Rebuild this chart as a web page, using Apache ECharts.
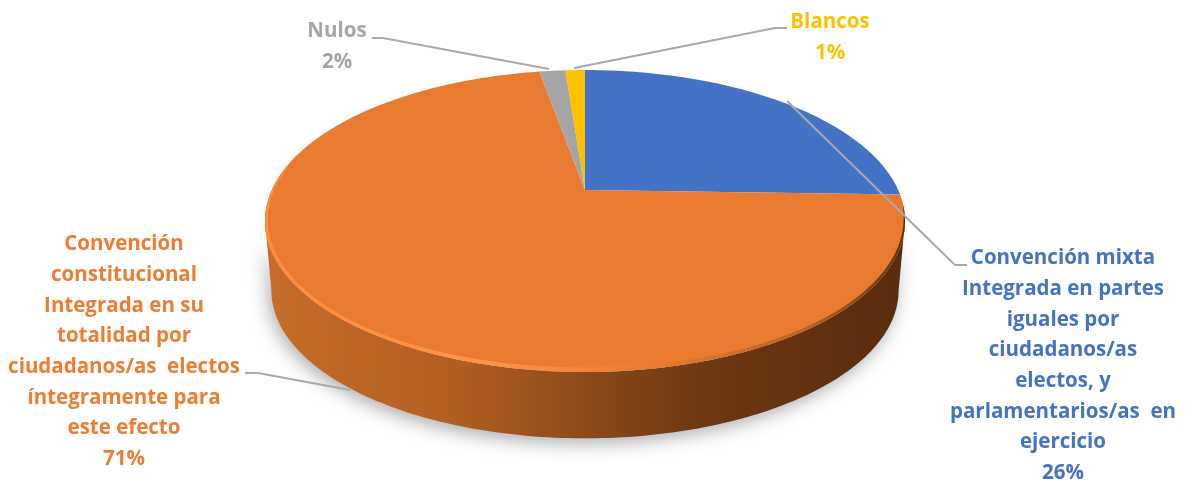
<!DOCTYPE html>
<html><head><meta charset="utf-8">
<style>html,body{margin:0;padding:0;background:#fff}#c{width:1189px;height:483px}</style>
<script src="https://cdn.jsdelivr.net/npm/echarts@6/dist/echarts.min.js"></script>
</head><body><div id="c"></div>
<script>
const categories = ['Convención mixta\nIntegrada en partes\niguales por\nciudadanos/as\nelectos, y\nparlamentarios/as  en\nejercicio','Convención\nconstitucional\nIntegrada en su\ntotalidad por\nciudadanos/as  electos\níntegramente para\neste efecto','Nulos','Blancos'];
const values = [25.5, 71.7, 1.6, 1.2];
const percentLabels = ['26%','71%','2%','1%'];
const colors = ['#4472C4','#E97B30','#A5A5A5','#FFC000'];
const textColors = ['#4472C4','#ED7D31','#A5A5A5','#FFC000'];

// perspective pie projection
const CX=585, CY=190, SX=313.2, SY=144.6, K=0.2053, DEPTH=70, SHRINK=0.98;
const FONT='700 20.5px "Open Sans", sans-serif';
const labelPos=[[1063,243],[124,229],[337,16],[830,7]];
const leaders=[
 [[787,101],[955,265],[967,265]],
 [[350,390],[258,373],[245,373]],
 [[549,69],[383,38],[372,38]],
 [[574,68],[775,28],[787,28]]
];
const total=values.reduce((a,b)=>a+b,0);
function proj(deg,scale,dy){
  const t=deg*Math.PI/180, x=Math.sin(t), y=Math.cos(t), w=1+K*y, s=scale||1;
  return [CX+s*SX*x/w, CY+(dy||0)-s*SY*y/w];
}
function arc(a,b,scale,dy){
  const p=[],n=Math.max(2,Math.ceil(Math.abs(b-a)));
  for(let i=0;i<=n;i++)p.push(proj(a+(b-a)*i/n,scale,dy));
  return p;
}
function crescent(a,b,thick){
  const outer=arc(a,b), n=outer.length-1;
  const inner=outer.map((p,i)=>{
    const bulge=Math.pow(Math.sin(Math.PI*i/n),0.5)*thick;
    const dx=CX-p[0], dy=CY+31-p[1], d=Math.hypot(dx,dy);
    return [p[0]+dx/d*bulge,p[1]+dy/d*bulge];
  }).reverse();
  return outer.concat(inner);
}
const FRONT0=Math.acos(-K)*180/Math.PI, FRONT1=360-FRONT0;

function renderItem(params,api){
  const i=params.dataIndex, v=api.value(0);
  let start=0; for(let j=0;j<i;j++)start+=values[j];
  const a0=start/total*360, a1=(start+v)/total*360;
  const children=[];
  const s0=Math.max(a0,FRONT0), s1=Math.min(a1,FRONT1);
  if(s1>s0){
    const top=arc(s0,s1), bottom=arc(s0,s1,SHRINK,DEPTH).reverse();
    children.push({type:'polygon',shape:{points:top.concat(bottom)},style:{
      fill:{type:'linear',x:0,y:0,x2:1,y2:0,colorStops:[
        {offset:0,color:'#C66D2A'},{offset:0.3,color:'#B05F22'},{offset:0.68,color:'#6E3812'},{offset:1,color:'#582C0E'}]},
      shadowBlur:18,shadowColor:'rgba(0,0,0,0.32)',shadowOffsetX:-3,shadowOffsetY:5}});
  }
  children.push({type:'polygon',shape:{points:[[CX,CY]].concat(arc(a0,a1))},style:{fill:colors[i]}});
  if(s1>s0){
    children.push({type:'polygon',shape:{points:crescent(s0-6,s1+28,4.5)},style:{
      fill:{type:'linear',x:0,y:0,x2:1,y2:0,colorStops:[
        {offset:0,color:'#FF8B3C'},{offset:0.35,color:'#FF9448'},{offset:0.6,color:'#E97B30'},{offset:0.85,color:'#B8621F'},{offset:1,color:'#5E3010'}]}}});
  }
  children.push({type:'polyline',z2:10,shape:{points:leaders[i]},style:{fill:null,stroke:'#A9A9A9',lineWidth:2}});
  children.push({type:'text',z2:10,style:{text:categories[i]+'\n'+percentLabels[i],x:labelPos[i][0],y:labelPos[i][1],
    align:'center',verticalAlign:'top',textAlign:'center',font:FONT,fill:textColors[i],lineHeight:30.7}});
  return {type:'group',children};
}
const chart=echarts.init(document.getElementById('c'),null,{renderer:'canvas'});
chart.setOption({
  animation:false,backgroundColor:'#fff',
  series:[{type:'custom',coordinateSystem:'none',silent:true,clip:false,
    renderItem,data:values.map((v,i)=>({value:[v],name:categories[i]})),
    encode:{value:0}}]
});
</script></body></html>
